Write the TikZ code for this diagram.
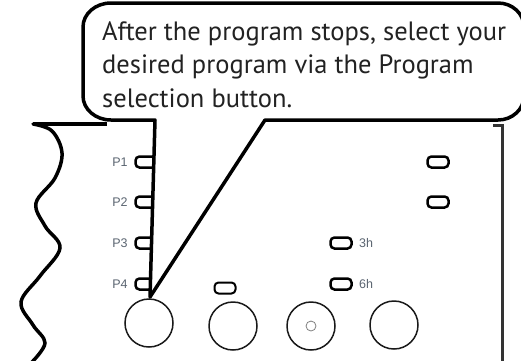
\documentclass[tikz,border=0pt]{standalone}
\usepackage{fontspec}
\setmainfont{Liberation Sans}
\newfontfamily\bubblefont{PT Sans}
\definecolor{labelgray}{HTML}{5B6571}
\definecolor{txtdark}{HTML}{222222}
\definecolor{edgedark}{HTML}{333333}
\usetikzlibrary{shapes.misc}
\begin{document}
\begin{tikzpicture}[x=1pt,y=-1pt,
  led/.style={draw=black, line width=2.5pt, rounded corners=4pt, minimum width=21pt, minimum height=11pt, inner sep=0pt, fill=white},
  ledthin/.style={led, line width=2pt},
  knob/.style={draw=black!90, line width=1.5pt, circle, minimum size=48pt, inner sep=0pt},
  lbl/.style={text=labelgray, font=\fontsize{12.5}{12.5}\selectfont, inner sep=0pt, anchor=center},
  btxt/.style={text=txtdark, font=\bubblefont\fontsize{26.5}{26.5}\selectfont, inner sep=0pt, anchor=base west}]
\useasboundingbox (0,0) rectangle (521,360);
\fill[white] (0,0) rectangle (521,360);
% panel edges
\draw[line width=3.5pt, line cap=round] plot[smooth, tension=0.6] coordinates {(33,124) (52,131) (62,153) (55,178) (36,203) (45,226) (60,248) (40,276) (21,302) (33,325) (45,343) (32,362)};
\draw[line width=3.5pt] (33,124) -- (107,124);
\draw[edgedark, line width=3pt] (493,125) -- (502,125) -- (502,362);
% left LEDs and labels
\foreach \i/\y in {1/162,2/202,3/243,4/284}{
  \node[led] (pl\i) at (146,\y) {};
  \node[lbl] (pt\i) at (120,\y) {P\i};
}
% right LEDs
\node[led] (r1) at (438,162) {};
\node[led] (r2) at (438,202) {};
\node[led] (h3) at (341,243) {};
\node[lbl, anchor=west] (t3) at (359,243) {3h};
\node[led] (h6) at (341,284) {};
\node[lbl, anchor=west] (t6) at (359,284) {6h};
\node[ledthin] (s2) at (225,288) {};
% knobs
\node[knob] (k1) at (149,323) {};
\node[knob] (k2) at (233,326) {};
\node[knob] (k3) at (311,326) {};
\node[draw=gray, line width=0.8pt, circle, minimum size=10pt, inner sep=0pt] (k3c) at (k3) {};
\node[knob] (k4) at (394,325) {};
% speech bubble
\coordinate (tip) at (150,297);
\draw[fill=white, line width=3.5pt, line join=round] (265,120) -- (498,120) arc[start angle=90, end angle=0, x radius=26, y radius=24] -- (524,27) arc[start angle=0, end angle=-90, x radius=26, y radius=24] -- (111,3) arc[start angle=-90, end angle=-180, x radius=28, y radius=24] -- (83,96) arc[start angle=180, end angle=90, x radius=28, y radius=24] -- (155,120) -- (tip) -- cycle;
\node[btxt] (l1) at (102,40) {After the program stops, select your};
\node[btxt] (l2) at (102,73) {desired program via the Program};
\node[btxt] (l3) at (102,107) {selection button.};
\end{tikzpicture}
\end{document}
